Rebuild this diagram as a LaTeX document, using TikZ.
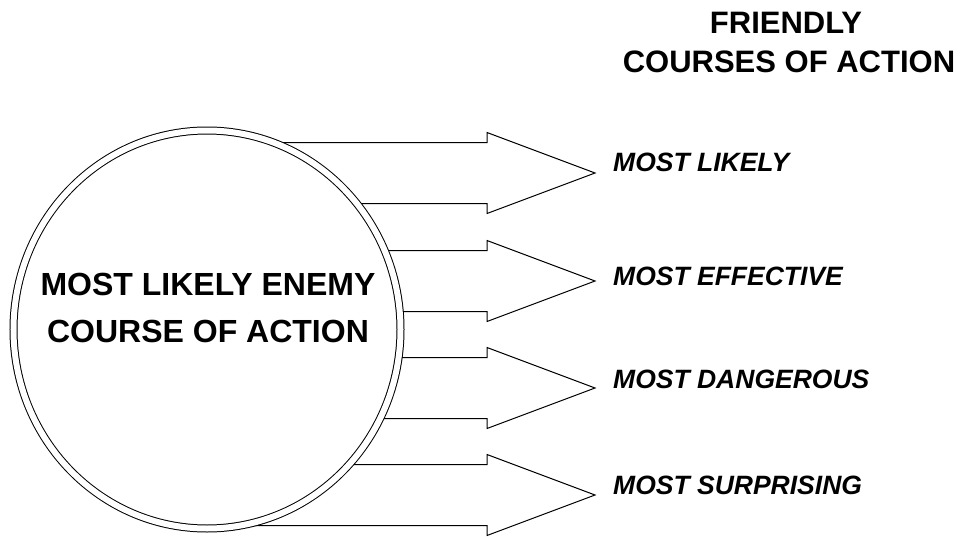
\documentclass[tikz,border=0pt]{standalone}
\usepackage{fontspec}
\setmainfont{Liberation Sans}
\usetikzlibrary{shapes.geometric}
\begin{document}
\begin{tikzpicture}[x=1pt,y=-1pt,
  blockarrow/.style={draw=black,line width=1pt,fill=white,line join=miter},
  lbl/.style={anchor=base west,inner sep=0pt,font=\fontsize{26.5}{30}\selectfont\bfseries\itshape},
  ttl/.style={anchor=base,inner sep=0pt,font=\fontsize{31}{36}\selectfont\bfseries},
  enemybox/.style={ellipse,draw=black,fill=white,line width=1pt,double=white,double distance=6pt,
    minimum width=387pt,minimum height=398pt,inner sep=0pt}]
\useasboundingbox (0,0) rectangle (962,538);
\fill[white] (0,0) rectangle (962,538);
% arrows
\foreach \i/\y/\b/\t in {1/173/171/MOST LIKELY,2/281/285/MOST EFFECTIVE,3/388/388/MOST DANGEROUS,4/495/494/MOST SURPRISING}{
  \coordinate (tip\i) at (595,\y);
  \coordinate (tail\i) at (207,\y);
  \draw[blockarrow] ([yshift=30.5pt]tail\i) -- (487,\y-30.5) -- (487,\y-40.5) -- (tip\i)
     -- (487,\y+40.5) -- (487,\y+30.5) -- ([yshift=-30.5pt]tail\i) -- cycle;
  \node[lbl] (lbl\i) at (613,\b) {\t};
}
% circle
\node[enemybox] (enemy) at (207,329.5) {};
\node[anchor=base,inner sep=0pt,align=center,font=\fontsize{32}{47.7}\selectfont\bfseries] (enemytxt) at (208,342.7)
  {MOST LIKELY ENEMY\\COURSE OF ACTION};
% title
\node[ttl] (t1) at (786,33) {FRIENDLY};
\node[ttl] (t2) at (789,72) {COURSES OF ACTION};
\end{tikzpicture}
\end{document}
